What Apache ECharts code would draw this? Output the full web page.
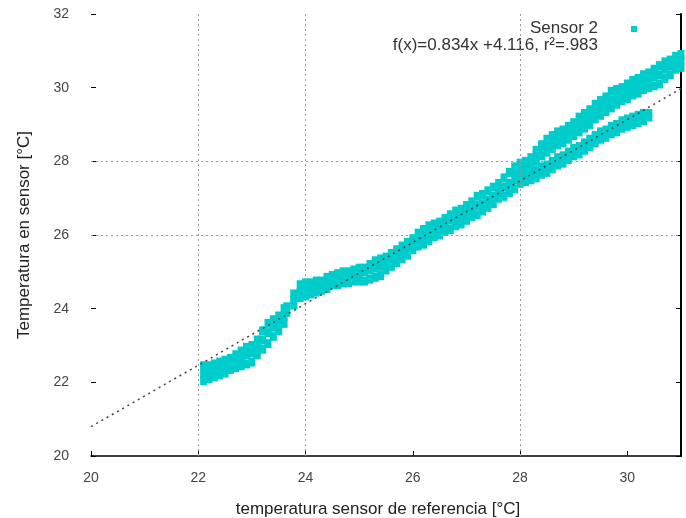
<!DOCTYPE html>
<html>
<head>
<meta charset="utf-8">
<script src="https://cdn.jsdelivr.net/npm/echarts@6/dist/echarts.min.js"></script>
<style>
html,body{margin:0;padding:0;background:#fff;}
#chart{width:686px;height:518px;}
</style>
</head>
<body>
<div id="chart"></div>
<script>
// Axis ticks
const xTicks = [20, 22, 24, 26, 28, 30];
const yTicks = [20, 22, 24, 26, 28, 30, 32];
const xMax = 31;
// Visible grid lines in the reference
const gridX = [22, 24, 28];
const gridY = [26, 28];

// Sensor 2 readings: [reference temp, sensor temps...] read column by column
const segA = [
  [22.1, 22.05, 22.25, 22.45], [22.2, 22.1, 22.3, 22.45], [22.3, 22.15, 22.35, 22.5],
  [22.4, 22.2, 22.4, 22.55], [22.5, 22.25, 22.45, 22.6], [22.6, 22.35, 22.5, 22.65],
  [22.7, 22.4, 22.6, 22.75], [22.8, 22.45, 22.65, 22.85], [22.9, 22.5, 22.75, 22.95],
  [23.0, 22.55, 22.8, 23.0], [23.1, 22.75, 22.95, 23.15], [23.2, 22.9, 23.15, 23.4],
  [23.3, 23.05, 23.35, 23.6], [23.4, 23.25, 23.5, 23.7], [23.5, 23.4, 23.6, 23.8],
  [23.6, 23.6, 23.8, 24.0], [23.65, 23.9, 24.05]
];
const segB = [
  [23.78, 24.1, 24.25, 24.4], [23.9, 24.3, 24.45, 24.65], [24.0, 24.35, 24.5, 24.7],
  [24.1, 24.4, 24.55, 24.7], [24.2, 24.45, 24.6, 24.75], [24.3, 24.5, 24.65, 24.75],
  [24.4, 24.55, 24.7, 24.85], [24.5, 24.65, 24.8, 24.9], [24.6, 24.65, 24.85, 24.95],
  [24.7, 24.7, 24.85, 25.0], [24.8, 24.7, 24.9, 25.0], [24.9, 24.75, 24.9, 25.05],
  [25.0, 24.75, 24.95, 25.1], [25.1, 24.75, 25.0, 25.1], [25.2, 24.8, 25.05, 25.2],
  [25.3, 24.85, 25.1, 25.3], [25.4, 24.9, 25.15, 25.35], [25.5, 25.05, 25.25, 25.4],
  [25.6, 25.15, 25.35, 25.5], [25.7, 25.25, 25.4, 25.6], [25.8, 25.35, 25.5, 25.7],
  [25.9, 25.45, 25.6, 25.8], [26.0, 25.6, 25.75, 25.9]
];
const segC = [
  [26.1, 25.7, 25.9, 26.05], [26.2, 25.75, 25.95, 26.15], [26.3, 25.85, 26.05, 26.25],
  [26.4, 25.95, 26.15, 26.3], [26.5, 26.0, 26.2, 26.35], [26.6, 26.1, 26.3, 26.45],
  [26.7, 26.15, 26.4, 26.55], [26.8, 26.25, 26.45, 26.65], [26.9, 26.3, 26.5, 26.7],
  [27.0, 26.4, 26.6, 26.8], [27.1, 26.5, 26.7, 26.9], [27.2, 26.55, 26.8, 27.05],
  [27.3, 26.65, 26.85, 27.1], [27.4, 26.75, 26.95, 27.2], [27.5, 26.85, 27.05, 27.3],
  [27.6, 27.0, 27.2, 27.4], [27.7, 27.05, 27.3, 27.55], [27.8, 27.15, 27.4, 27.7],
  [27.9, 27.25, 27.5, 27.7, 27.85], [28.0, 27.4, 27.6, 27.8, 27.95]
];
const upperBranch = [
  [28.1, 27.8, 28.0], [28.2, 27.9, 28.1], [28.3, 28.0, 28.2, 28.3],
  [28.4, 28.15, 28.35, 28.45], [28.5, 28.25, 28.45, 28.6], [28.6, 28.35, 28.55, 28.7],
  [28.7, 28.45, 28.65, 28.8], [28.8, 28.5, 28.7, 28.85], [28.9, 28.6, 28.8, 28.95],
  [29.0, 28.7, 28.9, 29.05], [29.1, 28.8, 29.0, 29.2], [29.2, 28.9, 29.1, 29.3],
  [29.3, 29.0, 29.2, 29.4], [29.4, 29.15, 29.35, 29.55], [29.5, 29.25, 29.45, 29.65],
  [29.6, 29.35, 29.55, 29.75], [29.7, 29.45, 29.65, 29.9], [29.8, 29.55, 29.75, 29.95],
  [29.9, 29.65, 29.85, 30.0], [30.0, 29.7, 29.9, 30.1], [30.1, 29.8, 30.0, 30.2],
  [30.2, 29.85, 30.05, 30.25], [30.3, 29.95, 30.15, 30.35], [30.4, 30.0, 30.2, 30.4],
  [30.5, 30.05, 30.3, 30.5], [30.6, 30.1, 30.35, 30.6], [30.7, 30.25, 30.5, 30.7],
  [30.8, 30.35, 30.6, 30.75], [30.9, 30.5, 30.7, 30.85], [31.0, 30.55, 30.75, 30.9]
];
const lowerBranch = [
  [28.1, 27.45, 27.65], [28.2, 27.5, 27.7], [28.3, 27.55, 27.75], [28.4, 27.65, 27.85],
  [28.5, 27.7, 27.9], [28.6, 27.8, 28.0], [28.7, 27.9, 28.1], [28.8, 27.95, 28.15],
  [28.9, 28.05, 28.25], [29.0, 28.15, 28.35], [29.1, 28.2, 28.4], [29.2, 28.3, 28.5],
  [29.3, 28.4, 28.6], [29.4, 28.5, 28.7], [29.5, 28.6, 28.8], [29.6, 28.65, 28.85],
  [29.7, 28.75, 28.95], [29.8, 28.8, 29.0], [29.9, 28.9, 29.1], [30.0, 28.95, 29.15],
  [30.1, 29.0, 29.2], [30.2, 29.05, 29.25], [30.3, 29.1, 29.3], [30.4, 29.2, 29.3]
];

// Fit line f(x)=0.834x+4.116 endpoints
const fitX = [20, 31];
const fitY = [20.796, 29.97];

const sensorPoints = [];
[segA, segB, segC, upperBranch, lowerBranch].forEach(seg => {
  seg.forEach(col => {
    for (let i = 1; i < col.length; i++) sensorPoints.push([col[0], col[i]]);
  });
});
const fitPoints = fitX.map((x, i) => [x, fitY[i]]);

const CYAN = '#00CCCC';
const FONT = 'Liberation Sans, Arial, sans-serif';

const chart = echarts.init(document.getElementById('chart'), null, {renderer: 'canvas'});
chart.setOption({
  animation: false,
  backgroundColor: '#fff',
  grid: {left: 91, right: 5, top: 14, bottom: 62, show: false, containLabel: false, outerBoundsMode: 'none'},
  xAxis: {
    type: 'value', min: xTicks[0], max: xMax, interval: xTicks[1] - xTicks[0],
    name: 'temperatura sensor de referencia [°C]', nameLocation: 'middle', nameGap: 45,
    nameTextStyle: {fontFamily: FONT, fontSize: 17, color: '#222', padding: [0, 16, 0, 0]},
    axisLine: {show: true, lineStyle: {color: '#000', width: 1.5}},
    axisTick: {show: true, inside: true, length: 5, lineStyle: {color: '#000'}},
    axisLabel: {fontFamily: FONT, fontSize: 14, color: '#444', margin: 15, showMaxLabel: false,
      formatter: v => (xTicks.indexOf(v) >= 0 ? String(v) : '')},
    splitLine: {show: false}
  },
  yAxis: [{
    type: 'value', min: yTicks[0], max: yTicks[yTicks.length - 1], interval: yTicks[1] - yTicks[0],
    name: 'Temperatura en sensor [°C]', nameLocation: 'middle', nameGap: 58,
    nameTextStyle: {fontFamily: FONT, fontSize: 17, color: '#222'},
    axisLine: {show: false},
    axisTick: {show: true, inside: true, length: 5, lineStyle: {color: '#000'}},
    axisLabel: {fontFamily: FONT, fontSize: 14, color: '#444', margin: 22},
    splitLine: {show: false}
  }, {
    type: 'value', position: 'right', min: yTicks[0], max: yTicks[yTicks.length - 1],
    interval: yTicks[1] - yTicks[0],
    axisLine: {show: true, lineStyle: {color: '#000', width: 2}},
    axisTick: {show: true, inside: true, length: 5, lineStyle: {color: '#000'}},
    axisLabel: {show: false}, splitLine: {show: false}
  }],
  graphic: [
    {type: 'text', right: 686 - 598, top: 20, style: {text: 'Sensor 2', font: '17px ' + FONT, fill: '#333', align: 'right'}},
    {type: 'rect', left: 631, top: 26, shape: {width: 6, height: 6}, style: {fill: CYAN}},
    {type: 'text', right: 686 - 598, top: 37, style: {text: 'f(x)=0.834x +4.116, r²=.983', font: '17px ' + FONT, fill: '#333', align: 'right'}}
  ],
  series: [
    {
      type: 'scatter', data: [], silent: true, z: 1,
      markLine: {
        silent: true, symbol: 'none', animation: false,
        label: {show: false},
        lineStyle: {color: '#999', type: [2, 3], width: 1},
        data: gridX.map(v => ({xAxis: v})).concat(gridY.map(v => ({yAxis: v})))
      }
    },
    {
      name: 'Sensor 2', type: 'scatter', data: sensorPoints, z: 2,
      symbol: 'rect', symbolSize: [7, 9],
      itemStyle: {color: CYAN, opacity: 1}
    },
    {
      name: 'fit', type: 'line', data: fitPoints, z: 3,
      symbol: 'none', silent: true,
      lineStyle: {color: '#444', width: 1.5, type: [2, 4]}
    }
  ]
});
</script>
</body>
</html>
